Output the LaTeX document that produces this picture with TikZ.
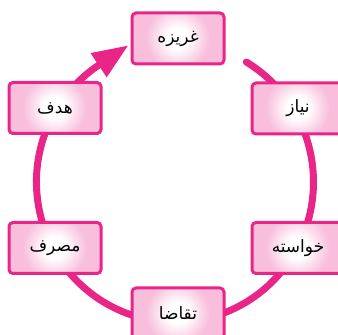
\documentclass[tikz,border=0pt]{standalone}
\usepackage{fontspec}
\newfontfamily\arabicfont[Script=Arabic]{DejaVu Sans}
\TeXXeTstate=1
\usetikzlibrary{arrows.meta}
\definecolor{mag}{RGB}{233,38,136}
\definecolor{boxpink}{RGB}{248,190,220}
\begin{document}
\begin{tikzpicture}[x=1pt,y=1pt,
  cyclebox/.style={rectangle, rounded corners=4pt, minimum width=92pt, minimum height=51pt, inner sep=0pt,
    draw=mag, line width=3pt, fill=boxpink, font=\arabicfont\fontsize{17}{20}\selectfont,
    path picture={%
      \foreach \k in {0,...,16}{\pgfmathsetmacro\rr{33-1.5*\k}\pgfmathsetmacro\ww{min(100,\k*7)}%
        \fill[white!\ww!boxpink] (path picture bounding box.center) circle (\rr pt);}}},
  cyclearc/.style={draw=mag, line width=7pt, line cap=round}]
\useasboundingbox (0,0) rectangle (338,335);
\draw[cyclearc, -{Triangle[length=36pt,width=27pt]}] (246.3,273) arc[start angle=59, end angle=-236.5, x radius=138.5, y radius=140] -- ++(30,20);
\node[cyclebox] (ghariza) at (178,296.5) {\beginR غریزه\endR};
\node[cyclebox] (hadaf) at (55,227) {\beginR هدف\endR};
\node[cyclebox] (niaz) at (298,226.5) {\beginR نیاز\endR};
\node[cyclebox] (masraf) at (55,87) {\beginR مصرف\endR};
\node[cyclebox] (khaste) at (298,87) {\beginR خواسته\endR};
\node[cyclebox] (taghaza) at (178,21.5) {\beginR تقاضا\endR};
\end{tikzpicture}
\end{document}
